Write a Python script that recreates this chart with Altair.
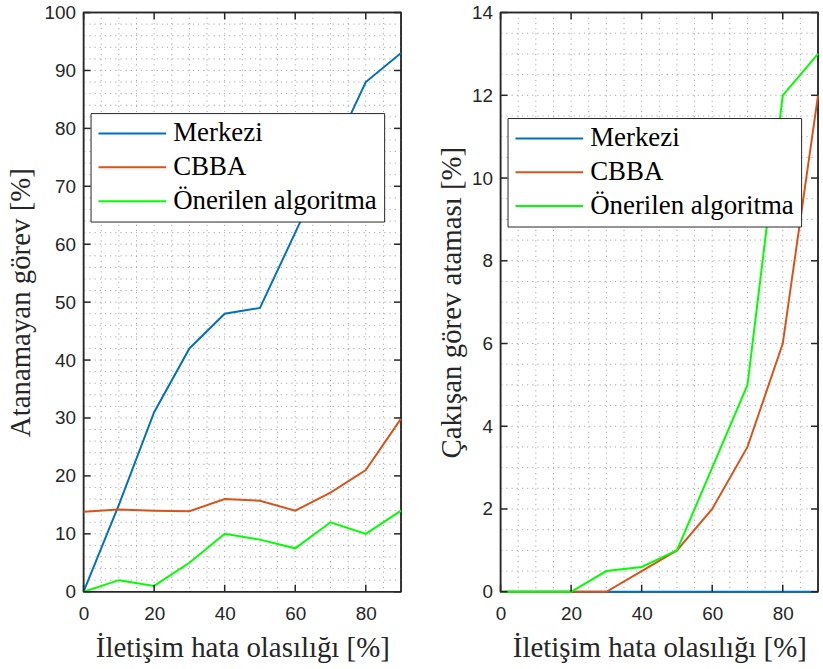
import altair as alt
import pandas as pd
import numpy as np

# ---- data ----
x_vals = [0, 10, 20, 30, 40, 50, 60, 70, 80, 90]
series_names = ["Merkezi", "CBBA", "Önerilen algoritma"]
series_colors = ["#0072BD", "#D95319", "#00FF00"]

left_merkezi = [0, 15, 31, 42, 48, 49, 62, 75, 88, 93]
left_cbba = [13.8, 14.2, 14.0, 13.9, 16.0, 15.7, 14.0, 17.1, 21.0, 29.9]
left_onerilen = [0, 2, 1, 5, 10, 9, 7.5, 12, 10, 14]

right_merkezi = [0, 0, 0, 0, 0, 0, 0, 0, 0, 0]
right_cbba = [0, 0, 0, 0, 0.5, 1, 2, 3.5, 6, 12]
right_onerilen = [0, 0, 0, 0.5, 0.6, 1, 3, 5, 12, 13]

x_ticks = [0, 20, 40, 60, 80]
left_y_ticks = [0, 10, 20, 30, 40, 50, 60, 70, 80, 90, 100]
right_y_ticks = [0, 2, 4, 6, 8, 10, 12, 14]

x_title = "İletişim hata olasılığı [%]"
left_y_title = "Atanamayan görev [%]"
right_y_title = "Çakışan görev ataması [%]"

W, H = 319, 582
TICK = 7
SANS = "Liberation Sans"
SERIF = "Liberation Serif"
TXT = "#262626"


def long_df(a, b, c):
    rows = []
    for name, vals in zip(series_names, [a, b, c]):
        for xv, yv in zip(x_vals, vals):
            rows.append({"x": xv, "y": yv, "s": name})
    return pd.DataFrame(rows)


def panel(df, ymax, yticks, yminor_step, ytitle, lx, ly, ytp):
    xs = alt.Scale(domain=[0, 90], nice=False, zero=False)
    ys = alt.Scale(domain=[0, ymax], nice=False, zero=False)
    xgrid = pd.DataFrame({"v": np.arange(5, 90, 5)})
    ygrid = pd.DataFrame({"v": np.arange(yminor_step, ymax, yminor_step)})
    xt = pd.DataFrame({"v": x_ticks})
    yt = pd.DataFrame({"v": yticks})
    one = pd.DataFrame({"k": [0]})

    grid_style = dict(color="#a8a8a8", strokeWidth=1, strokeDash=[1.2, 4])
    gx = alt.Chart(xgrid).mark_rule(**grid_style).encode(x=alt.X("v:Q", scale=xs))
    gy = alt.Chart(ygrid).mark_rule(**grid_style).encode(y=alt.Y("v:Q", scale=ys))

    tick_style = dict(color=TXT, strokeWidth=1.5)
    tb = alt.Chart(xt).mark_rule(**tick_style).encode(
        x=alt.X("v:Q", scale=xs), y=alt.value(H), y2=alt.value(H - TICK))
    tt = alt.Chart(xt).mark_rule(**tick_style).encode(
        x=alt.X("v:Q", scale=xs), y=alt.value(0), y2=alt.value(TICK))
    tl = alt.Chart(yt).mark_rule(**tick_style).encode(
        y=alt.Y("v:Q", scale=ys), x=alt.value(0), x2=alt.value(TICK))
    tr = alt.Chart(yt).mark_rule(**tick_style).encode(
        y=alt.Y("v:Q", scale=ys), x=alt.value(W - TICK), x2=alt.value(W))

    frame_style = dict(color=TXT, strokeWidth=1.5)
    f_top = alt.Chart(one).mark_rule(**frame_style).encode(
        x=alt.value(0), x2=alt.value(W), y=alt.value(0))
    f_bot = alt.Chart(one).mark_rule(**frame_style).encode(
        x=alt.value(0), x2=alt.value(W), y=alt.value(H))
    f_left = alt.Chart(one).mark_rule(**frame_style).encode(
        y=alt.value(0), y2=alt.value(H), x=alt.value(0))
    f_right = alt.Chart(one).mark_rule(**frame_style).encode(
        y=alt.value(0), y2=alt.value(H), x=alt.value(W))

    lines = alt.Chart(df).mark_line(strokeWidth=2, clip=False).encode(
        x=alt.X("x:Q", scale=xs,
                axis=alt.Axis(values=x_ticks, title=x_title, grid=False, ticks=False,
                              domain=False, labelFlush=False, labelPadding=13,
                              labelFont=SANS, labelFontSize=19, labelColor=TXT,
                              titleFont=SERIF, titleFontSize=29, titleFontWeight="normal",
                              titleColor=TXT, titlePadding=10)),
        y=alt.Y("y:Q", scale=ys,
                axis=alt.Axis(values=yticks, title=ytitle, grid=False, ticks=False,
                              domain=False, labelFlush=False, labelPadding=8,
                              labelFont=SANS, labelFontSize=19, labelColor=TXT,
                              titleFont=SERIF, titleFontSize=29, titleFontWeight="normal",
                              titleColor=TXT, titlePadding=ytp)),
        color=alt.Color("s:N",
                        scale=alt.Scale(domain=series_names, range=series_colors),
                        legend=alt.Legend(title=None, orient="none", legendX=lx, legendY=ly,
                                          symbolType="stroke", symbolSize=68 * 68,
                                          symbolStrokeWidth=2, clipHeight=27,
                                          rowPadding=6, labelOffset=6,
                                          labelFont=SERIF, labelFontSize=27,
                                          labelColor="#000000", padding=7,
                                          strokeColor="#262626", fillColor="white",
                                          labelLimit=400)),
        order=alt.Order("s:N"),
    )

    return alt.layer(gx, gy, f_top, f_bot, f_left, f_right, lines, tb, tt, tl, tr).properties(
        width=W, height=H)


left = panel(long_df(left_merkezi, left_cbba, left_onerilen), 100, left_y_ticks, 2,
             left_y_title, 7, 101, 9)
right = panel(long_df(right_merkezi, right_cbba, right_onerilen), 14, right_y_ticks, 0.5,
              right_y_title, 7, 106, 5)

chart = alt.hconcat(left, right, spacing=100, bounds="flush").resolve_legend(
    color="independent"
).configure(
    background="white",
    autosize=alt.AutoSizeParams(type="pad"),
    padding={"left": 5, "top": 1, "right": 0, "bottom": 0},
    view=alt.ViewConfig(stroke=TXT, strokeWidth=1.5),
)

chart.save("out.html", embed_options={"renderer": "svg", "actions": False})
